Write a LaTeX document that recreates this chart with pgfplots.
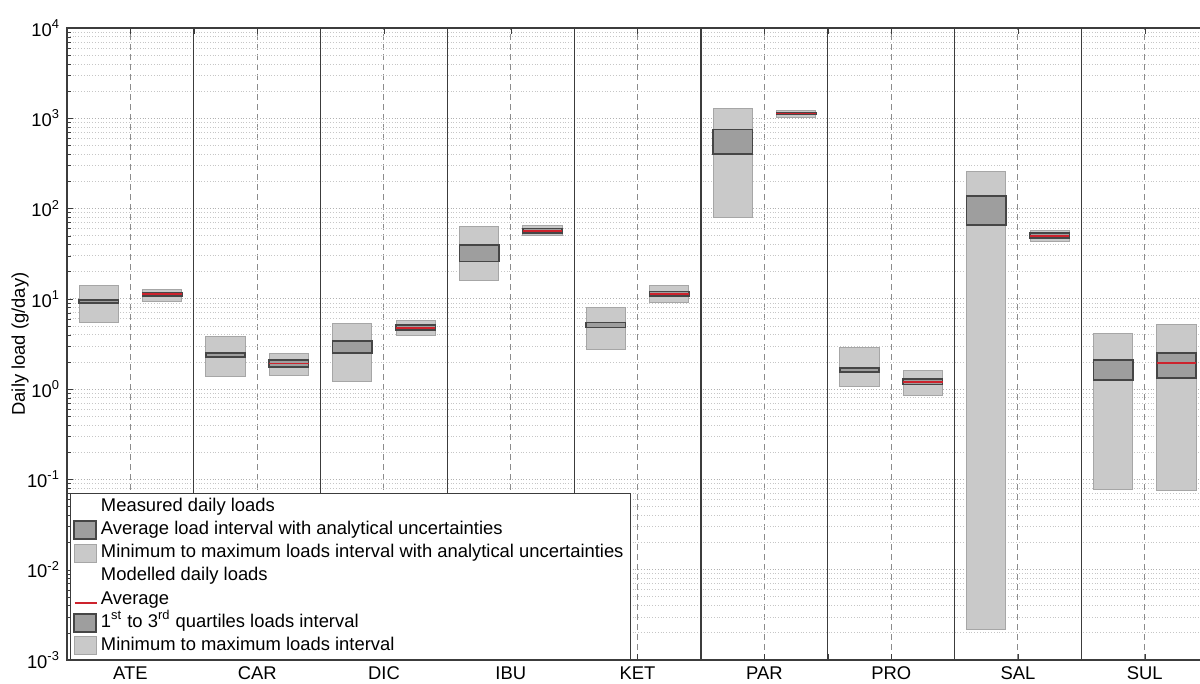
\documentclass[border=0pt]{standalone}
\usepackage{fontspec}
\setmainfont{Liberation Sans}
\usepackage{pgfplots}
\usepackage{pgfplotstable}
\pgfplotsset{compat=1.18}

\definecolor{lightbox}{RGB}{201,201,201}
\definecolor{lightedge}{RGB}{166,166,166}
\definecolor{darkbox}{RGB}{158,158,158}
\definecolor{darkedge}{RGB}{70,70,70}
\definecolor{avgred}{RGB}{205,35,45}
\definecolor{sepline}{RGB}{60,60,60}

% measured loads: min to max interval
\pgfplotstableread{
lo hi
5.5 14.2
1.39 3.87
1.23 5.4
15.8 63.5
2.72 8.0
80 1290
1.07 2.89
0.00216 259
0.078 4.14
}\measminmax

% measured loads: average interval
\pgfplotstableread{
lo hi
9.0 9.7
2.26 2.5
2.5 3.4
25.9 39.3
4.82 5.47
400 752
1.55 1.72
65.5 138
1.26 2.11
}\measavg

% modelled loads: min to max interval
\pgfplotstableread{
lo hi
9.4 12.8
1.43 2.5
3.9 5.7
49.9 65.5
9.1 13.9
1025 1220
0.84 1.62
42.8 56.6
0.076 5.15
}\modminmax

% modelled loads: quartiles and average
\pgfplotstableread{
lo hi avg
10.8 11.8 11.3
1.75 2.1 1.92
4.5 5.15 4.8
53.4 60.2 56.6
10.7 12.1 11.4
1105 1150 1130
1.13 1.29 1.2
47.4 53.4 50
1.33 2.5 1.95
}\modquart

\pgfplotsset{
  lightst/.style={fill=lightbox, draw=lightedge, line width=0.5pt},
  darkst/.style={fill=darkbox, draw=darkedge, line width=0.8pt},
  legbox/.style={legend image code/.code={\draw[##1] (0pt,-4.5pt) rectangle (11pt,4.5pt);}},
  legline/.style={legend image code/.code={%
    \node[inner sep=0pt, anchor=west, text=avgred] at (0pt,0pt) {\color{avgred}\rule{11pt}{1pt}};}},
}

% #1 table, #2 offset from category centre, #3 style
\newcommand{\drawboxes}[3]{%
  \pgfplotsforeachungrouped \ii in {0,...,8}{%
    \pgfplotstablegetelem{\ii}{lo}\of#1\let\blo\pgfplotsretval
    \pgfplotstablegetelem{\ii}{hi}\of#1\let\bhi\pgfplotsretval
    \pgfmathsetmacro\xa{\ii+(#2)-0.155}%
    \pgfmathsetmacro\xb{\ii+(#2)+0.155}%
    \edef\temp{\noexpand\addplot[#3,forget plot] coordinates {(\xa,\blo) (\xb,\blo) (\xb,\bhi) (\xa,\bhi)} -- cycle;}%
    \temp}}

\newcommand{\drawavg}{%
  \pgfplotsforeachungrouped \ii in {0,...,8}{%
    \pgfplotstablegetelem{\ii}{avg}\of\modquart\let\bav\pgfplotsretval
    \pgfmathsetmacro\xa{\ii+0.25-0.155}%
    \pgfmathsetmacro\xb{\ii+0.25+0.155}%
    \edef\temp{\noexpand\addplot[avgred,line width=0.9pt,forget plot] coordinates {(\xa,\bav) (\xb,\bav)};}%
    \temp}}

\begin{document}
\begin{tikzpicture}
\begin{axis}[name=ax,
  width=570.6pt, height=316pt, scale only axis,
  xmin=-0.5, xmax=8.5, ymin=1e-3, ymax=1e4, ymode=log,
  xtick={0,...,8}, xticklabels={ATE,CAR,DIC,IBU,KET,PAR,PRO,SAL,SUL},
  extra x ticks={0.5,1.5,...,7.5}, extra x tick labels={},
  extra x tick style={grid=none},
  ytick={1e-3,1e-2,1e-1,1,1e1,1e2,1e3,1e4},
  yticklabels={10\textsuperscript{-3},10\textsuperscript{-2},10\textsuperscript{-1},10\textsuperscript{0},10\textsuperscript{1},10\textsuperscript{2},10\textsuperscript{3},10\textsuperscript{4}},
  xmajorgrids, ymajorgrids, yminorgrids,
  major x grid style={dash pattern=on 3pt off 2pt, gray!90, line width=0.5pt},
  major y grid style={densely dotted, gray!60, line width=0.4pt},
  minor y grid style={densely dotted, gray!45, line width=0.4pt},
  axis line style={sepline, line width=0.6pt},
  tick style={sepline},
  major tick length=3pt, minor tick length=2pt,
  tick label style={font=\fontsize{9.2}{10}\selectfont},
  label style={font=\fontsize{9.2}{10}\selectfont},
  ylabel={Daily load (g/day)},
  ylabel style={at={(axis description cs:0,0.5)}, anchor=center, yshift=23.5pt},
  legend cell align=left,
  legend style={at={(0,0)}, anchor=south west, xshift=1.5pt,
    fill=white, draw=sepline, font=\fontsize{9.2}{10}\selectfont,
    inner xsep=1.5pt, inner ysep=1pt, row sep=0pt,
    nodes={text height=7pt, text depth=2.4pt, inner ysep=1.1pt, inner xsep=2pt}},
]
\pgfplotsinvokeforeach{0.5,1.5,...,7.5}{%
  \addplot[sepline, line width=0.6pt, forget plot] coordinates {(#1,1e-3) (#1,1e4)};}

\drawboxes{\measminmax}{-0.25}{lightst}
\drawboxes{\measavg}{-0.25}{darkst}
\drawboxes{\modminmax}{0.25}{lightst}
\drawboxes{\modquart}{0.25}{darkst}
\drawavg

\addlegendimage{empty legend}
\addlegendentry{Measured daily loads}
\addlegendimage{legbox, fill=darkbox, draw=darkedge, line width=0.8pt}
\addlegendentry{Average load interval with analytical uncertainties}
\addlegendimage{legbox, fill=lightbox, draw=lightedge, line width=0.5pt}
\addlegendentry{Minimum to maximum loads interval with analytical uncertainties}
\addlegendimage{empty legend}
\addlegendentry{Modelled daily loads}
\addlegendimage{legline}
\addlegendentry{Average}
\addlegendimage{legbox, fill=darkbox, draw=darkedge, line width=0.8pt}
\addlegendentry{1\textsuperscript{st} to 3\textsuperscript{rd} quartiles loads interval}
\addlegendimage{legbox, fill=lightbox, draw=lightedge, line width=0.5pt}
\addlegendentry{Minimum to maximum loads interval}
\end{axis}
\pgfresetboundingbox
\useasboundingbox (ax.south west) ++(-33.5pt,-12pt) rectangle ++(600pt,342pt);
\end{tikzpicture}
\end{document}
